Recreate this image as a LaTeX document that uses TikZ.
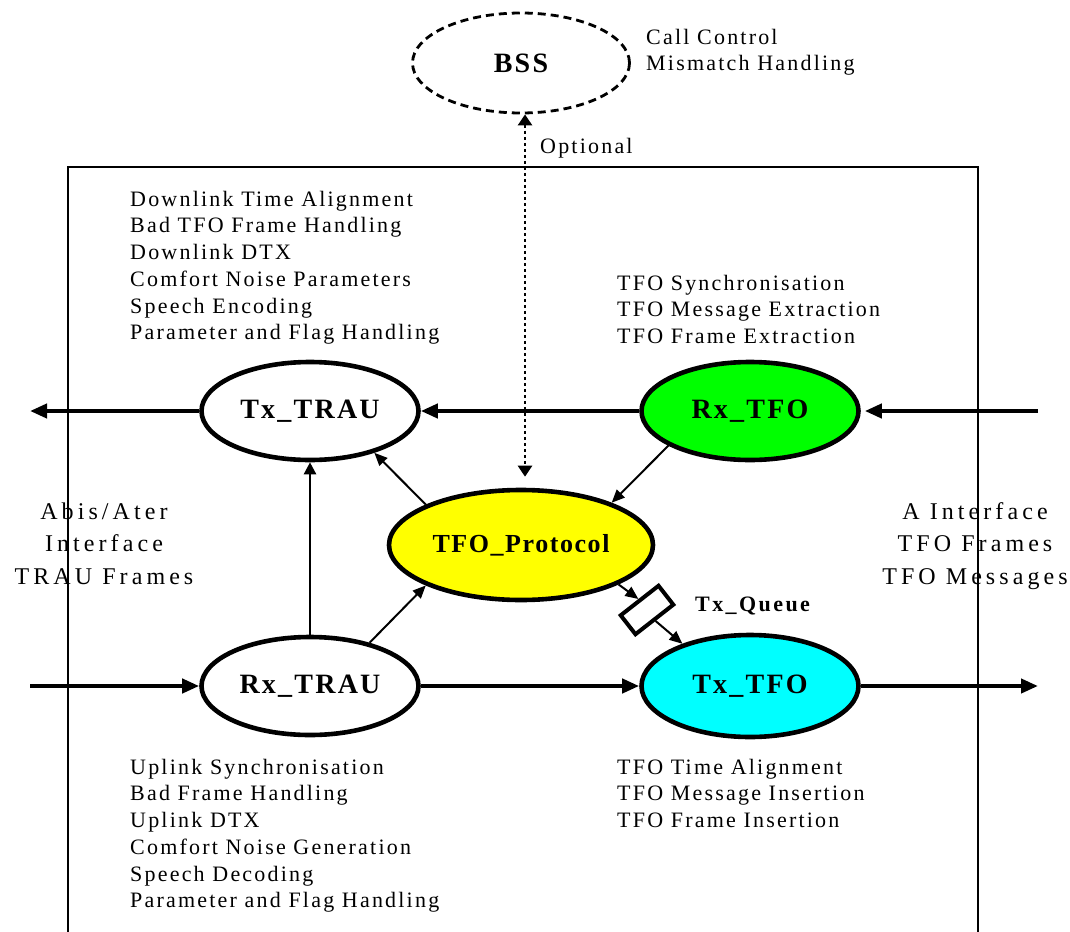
\documentclass[tikz,border=0pt]{standalone}
\usepackage{fontspec}
\setmainfont{Liberation Serif}
\newfontfamily\bodyfont[LetterSpace=10]{Liberation Serif}
\newfontfamily\ifacefont[LetterSpace=17]{Liberation Serif}
\newfontfamily\lblfont[LetterSpace=8]{Liberation Serif}
\newfontfamily\protofont[LetterSpace=6]{Liberation Serif}
\newfontfamily\queuefont[LetterSpace=11]{Liberation Serif}
\usetikzlibrary{shapes.geometric,arrows.meta}
\newcommand{\fstrut}{\rule{0pt}{16pt}}
\newcommand{\istrut}{\rule{0pt}{18pt}}
\begin{document}
\begin{tikzpicture}[x=1pt,y=-1pt,
  proc/.style={ellipse, draw, line width=4.6pt, minimum width=217pt, minimum height=98pt, inner sep=0pt,
    font=\lblfont\bfseries\fontsize{28}{32}\selectfont},
  body/.style={anchor=north west, align=left, inner sep=0pt, font=\bodyfont\fontsize{22}{26.7}\selectfont},
  iface/.style={anchor=north, align=center, inner sep=0pt, font=\ifacefont\fontsize{24}{32.5}\selectfont},
  bigarrow/.style={line width=4pt, -{Triangle[length=17pt,width=14pt]}},
  smallarrow/.style={line width=2pt, -{Triangle[length=13pt,width=11pt]}},
  dotarrow/.style={line width=2.6pt, dash pattern=on 3pt off 3pt,
    {Triangle[length=11pt,width=14pt]}-{Triangle[length=11pt,width=14pt]}},
]
\useasboundingbox (0,0) rectangle (1070,931);
\clip (0,0) rectangle (1070,931);

% frame
\draw[line width=2pt] (68,945) -- (68,167) -- (978,167) -- (978,945);

% processes
\node[proc, fill=white] (txtrau) at (310,411) {Tx\_TRAU};
\node[proc, fill=white] (rxtrau) at (310,686) {Rx\_TRAU};
\node[proc, fill={rgb,255:red,0;green,255;blue,0}] (rxtfo) at (750,411) {Rx\_TFO};
\node[proc, fill={rgb,255:red,0;green,255;blue,255}, minimum height=102pt] (txtfo) at (750,686) {Tx\_TFO};
\node[proc, fill={rgb,255:red,255;green,255;blue,0}, minimum width=264pt, minimum height=110pt,
  font=\protofont\bfseries\fontsize{26}{30}\selectfont] (proto) at (521,545) {TFO\_Protocol};
\node[proc, dash pattern=on 8pt off 5pt, line width=2.8pt, minimum height=100pt] (bss) at (521,63) {BSS};

% queue
\node[draw, rectangle, line width=4pt, minimum width=48pt, minimum height=24pt, inner sep=0pt, rotate=38, fill=white] (q) at (647,610) {};
\node[anchor=base west, inner sep=0pt, font=\queuefont\bfseries\fontsize{22}{26}\selectfont] (qlbl) at (695,611) {Tx\_Queue};

% free ends
\coordinate (lo) at (30,411);
\coordinate (ri) at (1038,411);
\coordinate (li) at (30,686);
\coordinate (ro) at (1038,686);

% connectors
\draw[bigarrow] (txtrau.west) -- (lo);
\draw[bigarrow] (rxtfo.west) -- (txtrau.east);
\draw[bigarrow, shorten >=4pt] (ri) -- (rxtfo.east);
\draw[bigarrow] (li) -- (rxtrau.west);
\draw[bigarrow] (rxtrau.east) -- (txtfo.west);
\draw[bigarrow] (txtfo.east) -- (ro);
\draw[line width=2.4pt, -{Triangle[length=12pt,width=12pt]}] (rxtrau.north) -- (txtrau.south);
\draw[smallarrow] (proto.157) -- (txtrau.-33);
\draw[smallarrow] (rxtfo.203) -- (proto.25);
\draw[smallarrow] (rxtrau.36) -- (proto.203);
\draw[smallarrow] (proto.-22) -- (q.north);
\draw[smallarrow] (q.south) -- (txtfo.148);
\draw[dotarrow, shorten >=11pt] ([xshift=4pt]bss.south) -- ([xshift=4pt]proto.north);

% texts
\node[body] (tl) at (130,190) {\fstrut Downlink Time Alignment\\Bad TFO Frame Handling\\Downlink DTX\\Comfort Noise Parameters\\Speech Encoding\\Parameter and Flag Handling};
\node[body] (tr) at (617,274) {\fstrut TFO Synchronisation\\TFO Message Extraction\\TFO Frame Extraction};
\node[body] (bl) at (130,758) {\fstrut Uplink Synchronisation\\Bad Frame Handling\\Uplink DTX\\Comfort Noise Generation\\Speech Decoding\\Parameter and Flag Handling};
\node[body] (br) at (617,758) {\fstrut TFO Time Alignment\\TFO Message Insertion\\TFO Frame Insertion};
\node[body] (cc) at (646,28) {\fstrut Call Control\\Mismatch Handling};
\node[body] (opt) at (540,137) {\fstrut Optional};
\node[iface] (abis) at (104,501) {\istrut Abis/Ater\\Interface\\TRAU Frames};
\node[iface] (aif) at (975,501) {\istrut A Interface\\TFO Frames\\TFO Messages};
\end{tikzpicture}
\end{document}
